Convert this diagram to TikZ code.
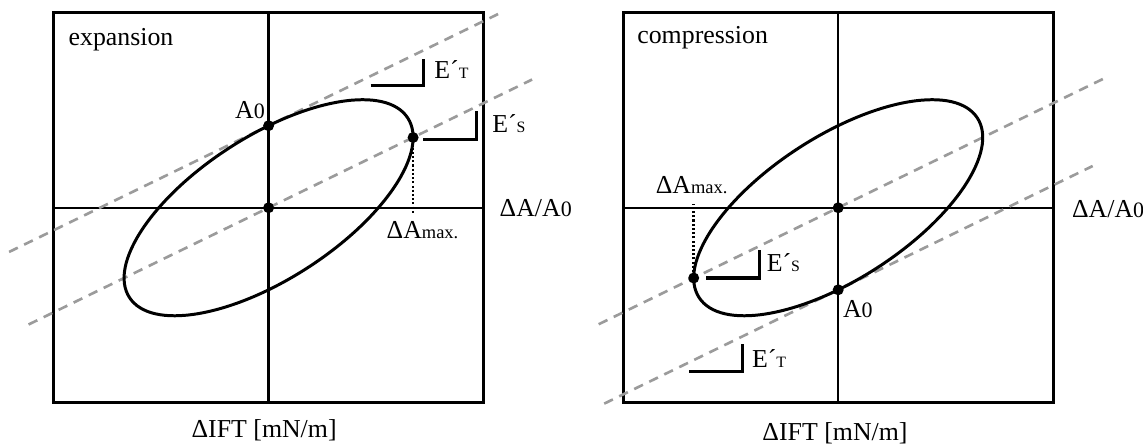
\documentclass[tikz,border=0pt]{standalone}
\usepackage{fontspec}
\setmainfont{Liberation Serif}
\definecolor{dashgray}{RGB}{155,155,155}
\newcommand{\lowsub}[1]{{\fontsize{12.5}{14}\selectfont #1}}
\newcommand{\maxsub}[1]{{\fontsize{10.5}{12}\selectfont #1}}
\newcommand{\capsub}[1]{{\fontsize{9}{10}\selectfont #1}}
\begin{document}
\begin{tikzpicture}[
  frame/.style={line width=1.7pt},
  axis/.style={line width=1.4pt},
  loop/.style={line width=1.7pt},
  tangent/.style={line width=1.5pt, dashgray, dash pattern=on 5.5pt off 4pt},
  drop/.style={line width=1.5pt, dash pattern=on 1.2pt off 1.2pt},
  slope/.style={line width=1.8pt},
  dot/.style={circle, fill=black, inner sep=0pt, minimum size=0.22cm},
  every node/.style={inner sep=0pt, font=\fontsize{14.7}{17}\selectfont}]
  \useasboundingbox (0,0) rectangle (22.86,8.9);
  \begin{scope}[shift={(5.372,4.745)}]
    \draw[frame] (-4.3,-3.9) rectangle (4.3,3.9);
    \draw[axis] (-4.3,0) -- (4.3,0);
    \draw[axis] (0,-3.9) -- (0,3.9);
    \draw[tangent] (-5.19,-0.884) -- (4.59,3.874);
    \draw[tangent] (-4.8,-2.335) -- (5.27,2.564);
    \draw[loop, rotate=32.8] (0,0) ellipse (3.312 and 1.432);
    \node[dot] (a0l) at (0,1.641) {};
    \node[dot] (ol) at (0,0) {};
    \node[dot] (maxl) at (2.89,1.405) {};
    \coordinate (footl) at (2.89,-0.106);
    \draw[drop] (maxl) -- (footl);
    \draw[slope] (2.04,2.45) -- (3.094,2.45) -- (3.094,2.984);
    \draw[slope] (3.094,1.368) -- (4.162,1.368) -- (4.162,1.926);
    \node[anchor=base west] (expl) at (-4.006,3.24) {expansion};
    \node[anchor=base west] (etl) at (3.31,2.594) {E´\capsub{T}};
    \node[anchor=base west] (esl) at (4.468,1.5) {E´\capsub{S}};
    \node[anchor=base east] (a0labl) at (-0.07,1.794) {A\lowsub{0}};
    \node[anchor=base] (maxlabl) at (3.078,-0.606) {ΔA\maxsub{max.}};
    \node[anchor=base west] (xl) at (4.614,-0.174) {ΔA/A\lowsub{0}};
    \node[anchor=base] (yl) at (-0.09,-4.59) {ΔIFT [mN/m]};
  \end{scope}
  \begin{scope}[shift={(16.764,4.745)}]
    \draw[frame] (-4.3,-3.9) rectangle (4.3,3.9);
    \draw[axis] (-4.3,0) -- (4.3,0);
    \draw[axis] (0,-3.9) -- (0,3.9);
    \draw[tangent] (-4.79,-2.33) -- (5.3,2.578);
    \draw[tangent] (-4.68,-3.918) -- (5.09,0.835);
    \draw[loop, rotate=32.8] (0,0) ellipse (3.312 and 1.432);
    \node[dot] (a0r) at (0,-1.641) {};
    \node[dot] (or) at (0,0) {};
    \node[dot] (maxr) at (-2.89,-1.405) {};
    \coordinate (footr) at (-2.89,0.066);
    \draw[drop] (maxr) -- (footr);
    \draw[slope] (-2.644,-1.404) -- (-1.578,-1.404) -- (-1.578,-0.854);
    \draw[slope] (-2.98,-3.268) -- (-1.912,-3.268) -- (-1.912,-2.72);
    \node[anchor=base west] (compr) at (-4.024,3.28) {compression};
    \node[anchor=base west] (esr) at (-1.434,-1.268) {E´\capsub{S}};
    \node[anchor=base west] (etr) at (-1.73,-3.188) {E´\capsub{T}};
    \node[anchor=base west] (a0labr) at (0.09,-2.188) {A\lowsub{0}};
    \node[anchor=base] (maxlabr) at (-2.932,0.292) {ΔA\maxsub{max.}};
    \node[anchor=base west] (xr) at (4.67,-0.19) {ΔA/A\lowsub{0}};
    \node[anchor=base] (yr) at (-0.064,-4.654) {ΔIFT [mN/m]};
  \end{scope}
\end{tikzpicture}
\end{document}
